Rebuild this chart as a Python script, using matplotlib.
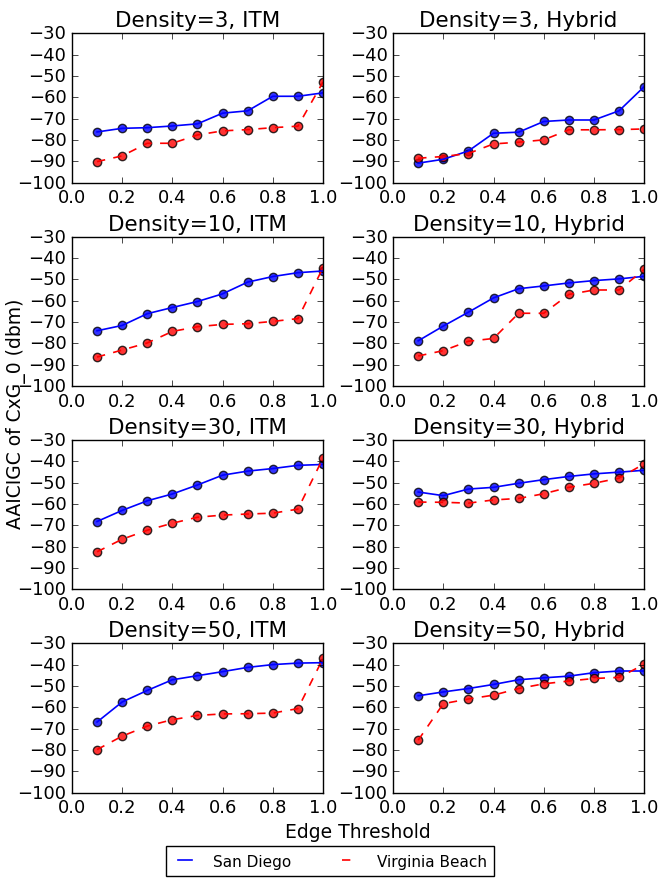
import numpy as np
import matplotlib
matplotlib.use('Agg')
import matplotlib.pyplot as plt

plt.style.use('classic')

thresholds = [0.1, 0.2, 0.3, 0.4, 0.5, 0.6, 0.7, 0.8, 0.9, 1.0]
densities = [3, 10, 30, 50]
models = ['ITM', 'Hybrid']

# San Diego values, one list per (density, model)
sd_3_itm = [-76.2, -74.5, -74.2, -73.4, -72.4, -67.4, -66.3, -59.5, -59.5, -57.9]
sd_3_hyb = [-90.8, -89.0, -85.1, -76.8, -76.3, -71.3, -70.6, -70.6, -66.3, -55.0]
sd_10_itm = [-74.1, -71.6, -66.1, -63.2, -60.4, -56.8, -51.3, -48.7, -46.9, -46.1]
sd_10_hyb = [-78.8, -71.9, -65.4, -58.7, -54.4, -53.1, -51.7, -50.6, -49.8, -48.6]
sd_30_itm = [-68.2, -63.0, -58.5, -55.3, -51.1, -46.5, -44.6, -43.4, -41.9, -41.5]
sd_30_hyb = [-54.4, -56.1, -53.0, -52.2, -50.3, -48.6, -47.1, -45.9, -45.1, -44.2]
sd_50_itm = [-66.9, -57.5, -52.1, -47.1, -45.2, -43.3, -41.3, -40.0, -39.3, -39.1]
sd_50_hyb = [-54.6, -52.8, -51.2, -49.3, -47.1, -46.2, -45.4, -43.8, -43.0, -43.0]

# Virginia Beach values
vb_3_itm = [-90.1, -87.4, -81.5, -81.5, -77.6, -75.7, -75.1, -74.2, -73.5, -52.8]
vb_3_hyb = [-88.5, -87.7, -86.3, -81.8, -81.0, -79.9, -75.2, -75.2, -75.1, -74.8]
vb_10_itm = [-86.4, -83.1, -79.8, -74.4, -72.2, -71.1, -70.8, -69.7, -68.4, -44.5]
vb_10_hyb = [-85.9, -83.4, -79.0, -77.7, -65.9, -65.9, -57.1, -55.0, -55.0, -45.4]
vb_30_itm = [-82.4, -76.5, -72.3, -69.0, -66.2, -65.2, -64.7, -64.3, -62.4, -38.5]
vb_30_hyb = [-59.1, -59.2, -59.6, -58.1, -57.4, -55.2, -52.2, -50.3, -47.9, -41.2]
vb_50_itm = [-79.8, -73.5, -68.8, -65.8, -63.8, -63.1, -63.0, -62.7, -60.6, -37.1]
vb_50_hyb = [-75.4, -58.3, -56.1, -54.3, -51.2, -49.0, -47.7, -46.5, -46.0, -39.9]

san_diego = [[sd_3_itm, sd_3_hyb], [sd_10_itm, sd_10_hyb],
             [sd_30_itm, sd_30_hyb], [sd_50_itm, sd_50_hyb]]
virginia = [[vb_3_itm, vb_3_hyb], [vb_10_itm, vb_10_hyb],
            [vb_30_itm, vb_30_hyb], [vb_50_itm, vb_50_hyb]]

fig, axes = plt.subplots(4, 2, figsize=(6.6, 8.79), dpi=100, facecolor='white')
fig.subplots_adjust(left=0.109, right=0.976, top=0.961, bottom=0.097,
                    wspace=0.279, hspace=0.36)

for i, d in enumerate(densities):
    for j, m in enumerate(models):
        ax = axes[i][j]
        l1, = ax.plot(thresholds, san_diego[i][j], 'b-', lw=1.2, label='San Diego')
        ax.scatter(thresholds, san_diego[i][j], c='b', alpha=0.8, s=36)
        l2, = ax.plot(thresholds, virginia[i][j], 'r--', lw=1.2, label='Virginia Beach')
        ax.scatter(thresholds, virginia[i][j], c='r', alpha=0.8, s=36)
        ax.set_xlim(0.0, 1.0)
        ax.set_ylim(-100, -30)
        ax.set_xticks(np.arange(0, 1.01, 0.2))
        ax.set_yticks(np.arange(-100, -29, 10))
        ax.tick_params(labelsize=13)
        ax.set_title('Density=%d, %s' % (d, m), fontsize=15.5)

# labels centred over the whole block of axes
fig.text(0.024, 0.529, 'AAICIGC of CxG_0 (dbm)', rotation=90, fontsize=13.5,
         ha='center', va='center')
fig.text(0.542, 0.053, 'Edge Threshold', fontsize=13.5, ha='center', va='center')
fig.legend([l1, l2], ['San Diego', 'Virginia Beach'], loc='lower center',
           ncol=2, fontsize=11, bbox_to_anchor=(0.5, 0.0), borderaxespad=0.1,
           handlelength=1.5, handletextpad=1.1, columnspacing=3.0, borderpad=0.5)

fig.savefig('out.png', dpi=100, facecolor='white')
